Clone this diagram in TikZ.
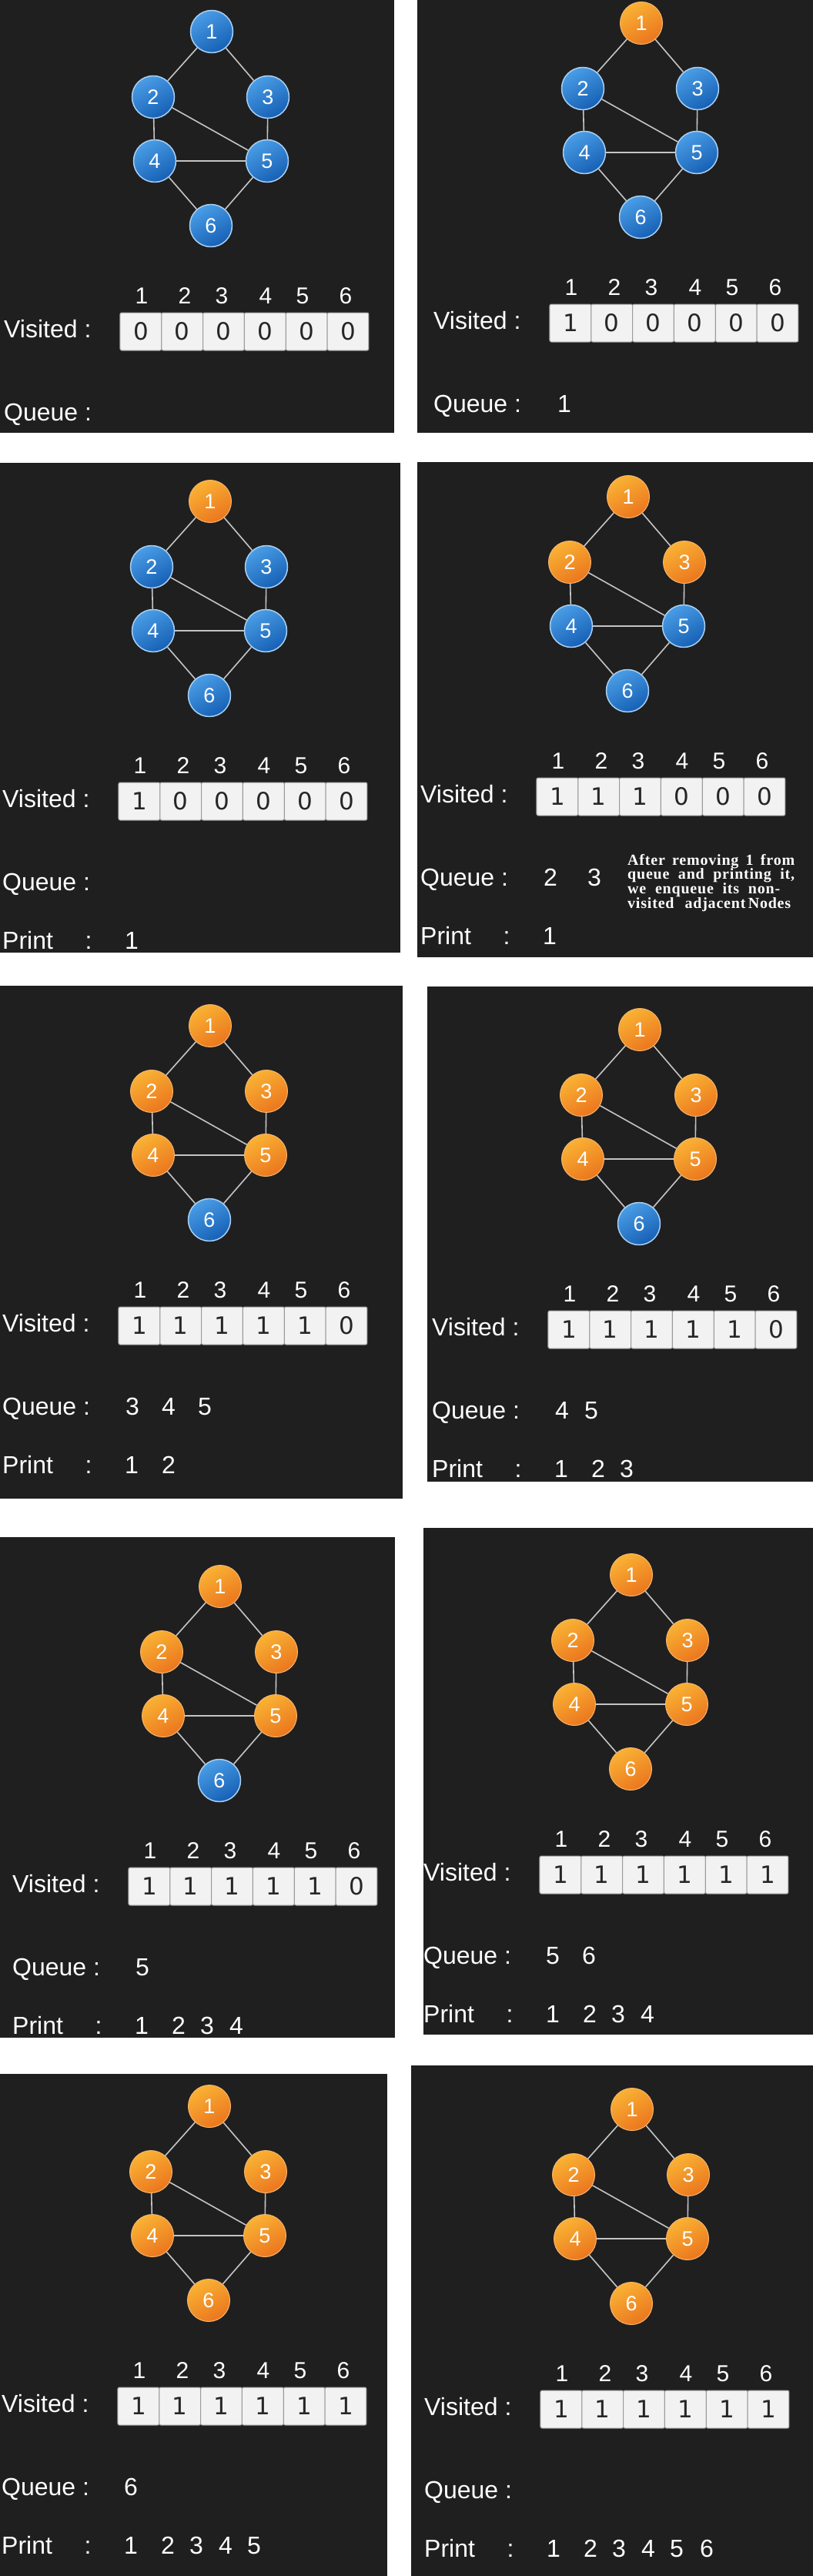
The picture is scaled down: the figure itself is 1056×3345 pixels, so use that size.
\documentclass[tikz,border=0pt]{standalone}
\usepackage{fontspec}
\setmainfont{Liberation Sans}
\newfontfamily\cellfont{DejaVu Sans}
\newfontfamily\notefont[LetterSpace=4]{Liberation Serif}
\usepackage{tikz}
\usetikzlibrary{calc}
\usetikzlibrary{positioning}

\definecolor{panelbg}{HTML}{1F1F1F}
\definecolor{blueTop}{HTML}{4A9DE6}
\definecolor{blueBot}{HTML}{1660B5}
\definecolor{blueRim}{HTML}{A9D0F2}
\definecolor{orangeTop}{HTML}{F9B234}
\definecolor{orangeBot}{HTML}{EB761E}
\definecolor{orangeRim}{HTML}{F6B66E}
\definecolor{linkgray}{HTML}{C4C4C4}
\definecolor{cellfill}{HTML}{F2F2F2}
\definecolor{cellline}{HTML}{9A9A9A}

\tikzset{
  vertex/.style={circle, minimum size=55pt, inner sep=0pt, text=white,
    font=\fontsize{27}{27}\selectfont},
  state0/.style={top color=blueTop, bottom color=blueBot, shading angle=30,
    draw=blueRim, line width=1.5pt},
  state1/.style={top color=orangeTop, bottom color=orangeBot, shading angle=30,
    draw=orangeRim, line width=1pt},
  link/.style={draw=linkgray, line width=1.6pt},
  lbl/.style={text=white, inner sep=0pt, font=\fontsize{32}{32}\selectfont},
  idx/.style={lbl, anchor=base, font=\fontsize{30}{30}\selectfont},
  cell/.style={minimum width=53.83pt, minimum height=49pt, inner sep=0pt,
    fill=cellfill, draw=cellline, line width=1pt, rounded corners=2pt,
    text=black!85, font=\cellfont\fontsize{31}{31}\selectfont}
}

% #1 name prefix, #2/#3 centre of vertex 1, #4 visited bits,
% #5 queue digit/offset list, #6 number of printed vertices
\newcommand{\bfsstate}[6]{%
  \begin{scope}[shift={(#2,#3)}]
    \foreach \i/\dx/\dy in {1/0/0, 2/-76/85, 3/73/85, 4/-74/168, 5/72/168, 6/-1/252}{
      \pgfmathtruncatemacro{\b}{{#4}[\i-1]}
      \node[vertex, state\b] (#1n\i) at (\dx,\dy) {\i};
    }
    \foreach \a/\z in {1/2, 1/3, 2/4, 3/5, 2/5, 4/5, 4/6, 5/6}
      \draw[link] (#1n\a) -- (#1n\z);
    \node[lbl, anchor=base west] (#1vis) at (-270,397) {Visited :};
    \foreach \i/\lx in {1/-91, 2/-35, 3/13, 4/70, 5/118, 6/174}{
      \pgfmathtruncatemacro{\b}{{#4}[\i-1]}
      \node[idx] (#1i\i) at (\lx,353) {\i};
      \node[cell] (#1c\i) at ({-92.1+53.83*(\i-1)},389.5) {\b};
    }
    \node[lbl, anchor=base west] (#1que) at (-270,505) {Queue :};
    \def\qlist{#5}
    \ifx\qlist\empty\else
      \foreach \q/\qx in {#5}
        \node[lbl, anchor=base] (#1q\q) at (\qx,505) {\q};
    \fi
    \ifnum#6>0
      \node[lbl, anchor=base west] (#1prt) at (-270,581) {Print};
      \node[lbl, anchor=base] (#1pcol) at (-158,581) {:};
      \foreach \p in {1,...,#6}{
        \pgfmathsetmacro{\px}{{-102,-54,-17,21,58,97}[\p-1]}
        \node[lbl, anchor=base] (#1p\p) at (\px,581) {\p};
      }
    \fi
  \end{scope}}

\begin{document}
\begin{tikzpicture}[x=1pt, y=-1pt]
  \useasboundingbox (0,0) rectangle (1056,3345);
  \fill[white] (0,0) rectangle (1056,3345);
  \foreach \xa/\ya/\xb/\yb in {
    0/0/512/562, 542/0/1056/562,
    0/601/520/1237, 542/600/1056/1243,
    0/1280/523/1946, 555/1281/1056/1924,
    0/1996/513/2646, 550/1984/1056/2642,
    0/2693/503/3345, 534/2682/1056/3345
  }{
    \fill[panelbg] (\xa,\ya) rectangle (\xb,\yb);
  }

  \bfsstate{a}{275}{41}{0,0,0,0,0,0}{}{0}
  \bfsstate{b}{833}{30}{1,0,0,0,0,0}{1/-100}{0}
  \bfsstate{c}{273}{651}{1,0,0,0,0,0}{}{1}
  \bfsstate{d}{816}{645}{1,1,1,0,0,0}{2/-101, 3/-44}{1}
  \bfsstate{e}{273}{1332}{1,1,1,1,1,0}{3/-101, 4/-54, 5/-7}{2}
  \bfsstate{f}{831}{1337}{1,1,1,1,1,0}{4/-101, 5/-63}{3}
  \bfsstate{g}{286}{2060}{1,1,1,1,1,0}{5/-101}{4}
  \bfsstate{h}{820}{2045}{1,1,1,1,1,1}{5/-102, 6/-55}{4}
  \bfsstate{i}{272}{2735}{1,1,1,1,1,1}{6/-102}{5}
  \bfsstate{j}{821}{2739}{1,1,1,1,1,1}{}{6}

  \node[text=white, inner sep=0pt, anchor=north west, align=left,
    font=\notefont\bfseries\fontsize{20}{18.7}\selectfont] (note) at (815,1109) {%
    \makebox[217pt][s]{After removing 1 from}\\
    \makebox[217pt][s]{queue and printing it,}\\
    \makebox[198pt][s]{we enqueue its non-}\\
    \makebox[212pt][s]{visited\hfill adjacent\,Nodes}};
\end{tikzpicture}
\end{document}
